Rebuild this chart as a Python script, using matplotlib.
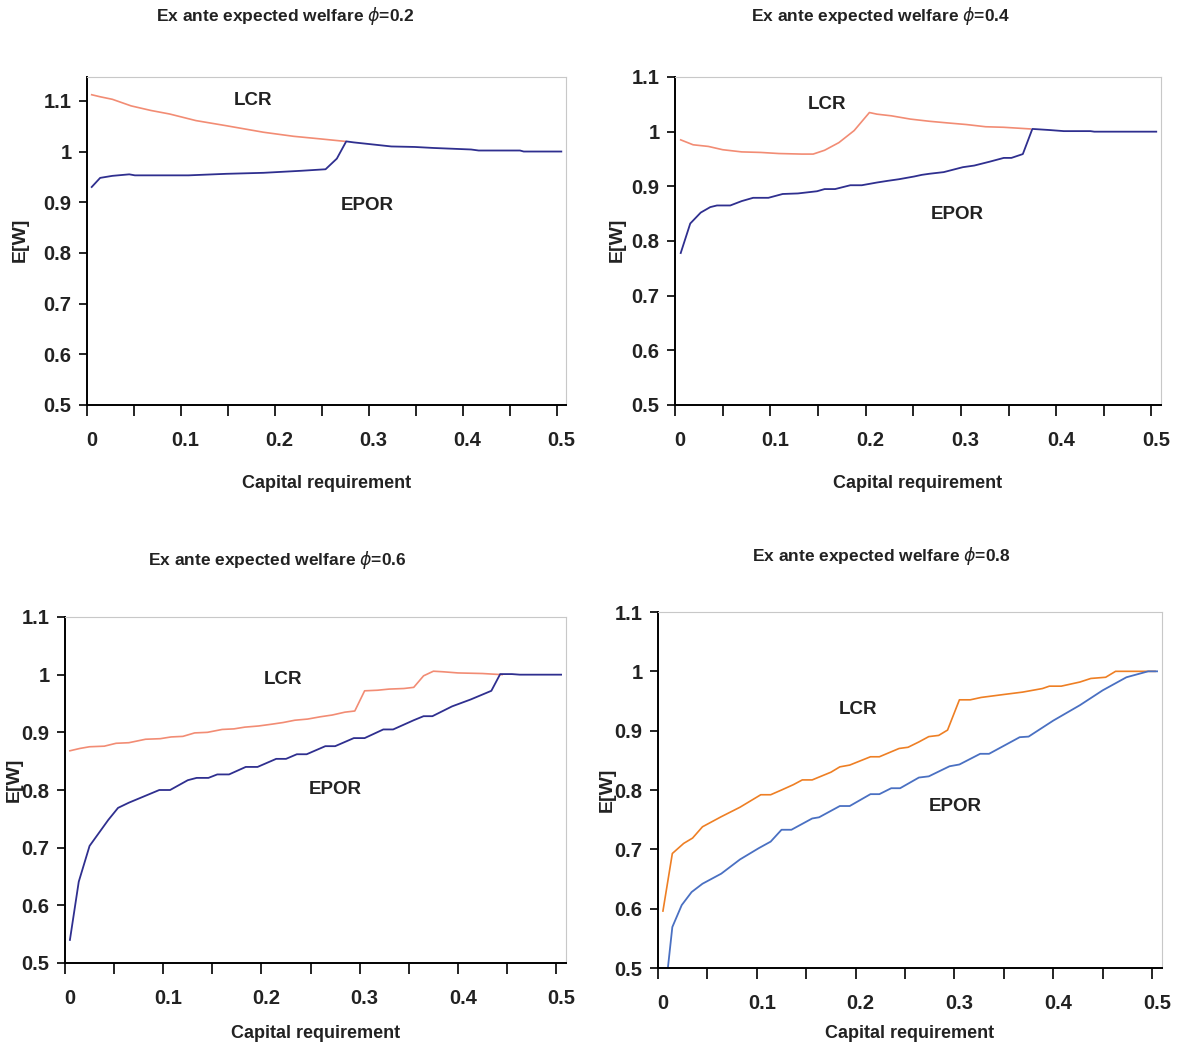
import matplotlib
matplotlib.use("Agg")
import matplotlib.pyplot as plt
import numpy as np

plt.rcParams['font.family'] = ['Liberation Sans', 'DejaVu Sans']
plt.rcParams['mathtext.fontset'] = 'dejavusans'

# ── data (capital requirement vs E[W]) ──
phis = ['0.2', '0.4', '0.6', '0.8']

lcr1_x = [0.005, 0.014, 0.027, 0.047, 0.068, 0.088, 0.116, 0.148, 0.188, 0.220, 0.248, 0.275]
lcr1_y = [1.112, 1.108, 1.103, 1.090, 1.081, 1.074, 1.061, 1.051, 1.038, 1.030, 1.025, 1.020]
epor1_x = [0.005, 0.014, 0.027, 0.045, 0.051, 0.108, 0.148, 0.188, 0.228, 0.254, 0.266, 0.276,
           0.284, 0.324, 0.349, 0.369, 0.409, 0.417, 0.461, 0.465, 0.505]
epor1_y = [0.930, 0.948, 0.952, 0.955, 0.953, 0.953, 0.956, 0.958, 0.962, 0.965, 0.986, 1.020,
           1.018, 1.010, 1.009, 1.007, 1.004, 1.002, 1.002, 1.000, 1.000]

lcr2_x = [0.006, 0.019, 0.035, 0.050, 0.070, 0.090, 0.109, 0.133, 0.145, 0.157, 0.172, 0.188,
          0.204, 0.212, 0.227, 0.247, 0.267, 0.286, 0.306, 0.326, 0.345, 0.373]
lcr2_y = [0.985, 0.976, 0.973, 0.967, 0.963, 0.962, 0.960, 0.959, 0.959, 0.966, 0.980, 1.002,
          1.035, 1.032, 1.029, 1.023, 1.019, 1.016, 1.013, 1.009, 1.008, 1.005]
epor2_x = [0.006, 0.016, 0.027, 0.037, 0.044, 0.058, 0.070, 0.082, 0.098, 0.113, 0.129, 0.149,
           0.157, 0.168, 0.184, 0.196, 0.212, 0.223, 0.235, 0.251, 0.259, 0.267, 0.282, 0.302,
           0.314, 0.330, 0.345, 0.353, 0.365, 0.375, 0.393, 0.408, 0.436, 0.440, 0.505]
epor2_y = [0.778, 0.832, 0.852, 0.862, 0.865, 0.865, 0.873, 0.879, 0.879, 0.886, 0.887, 0.891,
           0.895, 0.895, 0.902, 0.902, 0.907, 0.910, 0.913, 0.918, 0.921, 0.923, 0.926, 0.935,
           0.938, 0.945, 0.952, 0.952, 0.959, 1.005, 1.003, 1.001, 1.001, 1.000, 1.000]

lcr3_x = [0.005, 0.015, 0.025, 0.040, 0.052, 0.065, 0.082, 0.097, 0.108, 0.120, 0.132, 0.145,
          0.160, 0.172, 0.183, 0.197, 0.210, 0.222, 0.234, 0.247, 0.260, 0.272, 0.285, 0.295,
          0.305, 0.318, 0.330, 0.345, 0.355, 0.365, 0.375, 0.385, 0.400, 0.425, 0.445]
lcr3_y = [0.868, 0.872, 0.875, 0.876, 0.881, 0.882, 0.888, 0.889, 0.892, 0.893, 0.899, 0.900,
          0.905, 0.906, 0.909, 0.911, 0.914, 0.917, 0.921, 0.923, 0.927, 0.930, 0.935, 0.937,
          0.972, 0.973, 0.975, 0.976, 0.978, 0.998, 1.006, 1.005, 1.003, 1.002, 1.000]
epor3_x = [0.005, 0.014, 0.025, 0.044, 0.054, 0.065, 0.096, 0.107, 0.125, 0.134, 0.146, 0.155,
           0.167, 0.184, 0.196, 0.215, 0.225, 0.236, 0.246, 0.265, 0.275, 0.294, 0.305, 0.324,
           0.334, 0.355, 0.365, 0.374, 0.394, 0.413, 0.434, 0.443, 0.455, 0.463, 0.505]
epor3_y = [0.540, 0.641, 0.703, 0.748, 0.769, 0.778, 0.800, 0.800, 0.817, 0.821, 0.821, 0.827,
           0.827, 0.840, 0.840, 0.854, 0.854, 0.862, 0.862, 0.876, 0.876, 0.890, 0.890, 0.905,
           0.905, 0.921, 0.928, 0.928, 0.945, 0.957, 0.972, 1.001, 1.001, 1.000, 1.000]

lcr4_x = [0.005, 0.0145, 0.026, 0.035, 0.045, 0.064, 0.083, 0.104, 0.114, 0.125, 0.137, 0.146,
          0.156, 0.175, 0.184, 0.194, 0.215, 0.224, 0.244, 0.253, 0.264, 0.274, 0.284, 0.293,
          0.305, 0.316, 0.327, 0.350, 0.369, 0.389, 0.396, 0.408, 0.427, 0.438, 0.453, 0.463, 0.503]
lcr4_y = [0.596, 0.693, 0.710, 0.719, 0.738, 0.755, 0.771, 0.792, 0.792, 0.800, 0.809, 0.817,
          0.817, 0.830, 0.839, 0.842, 0.856, 0.856, 0.870, 0.872, 0.881, 0.890, 0.892, 0.901,
          0.952, 0.952, 0.956, 0.961, 0.965, 0.971, 0.975, 0.975, 0.982, 0.988, 0.990, 1.000, 1.000]
epor4_x = [0.010, 0.0145, 0.024, 0.034, 0.045, 0.064, 0.083, 0.102, 0.114, 0.125, 0.135, 0.156,
           0.163, 0.184, 0.194, 0.215, 0.224, 0.236, 0.245, 0.264, 0.274, 0.295, 0.305, 0.326,
           0.335, 0.366, 0.375, 0.400, 0.427, 0.450, 0.474, 0.496, 0.505]
epor4_y = [0.500, 0.569, 0.606, 0.628, 0.642, 0.659, 0.683, 0.702, 0.713, 0.733, 0.733, 0.752,
           0.754, 0.773, 0.773, 0.793, 0.793, 0.803, 0.803, 0.821, 0.823, 0.840, 0.843, 0.861,
           0.861, 0.889, 0.890, 0.917, 0.943, 0.968, 0.990, 1.000, 1.000]

panels = [
    (lcr1_x, lcr1_y, epor1_x, epor1_y),
    (lcr2_x, lcr2_y, epor2_x, epor2_y),
    (lcr3_x, lcr3_y, epor3_x, epor3_y),
    (lcr4_x, lcr4_y, epor4_x, epor4_y),
]

W, H = 1181, 1051
fig = plt.figure(figsize=(W / 100, H / 100), dpi=100)

# axes boxes in pixels: left, right, top, bottom
boxes = [(87, 566, 77, 405), (675, 1161, 77, 405), (65, 566, 617, 963), (658, 1162, 612, 968)]
ytops = [1.147, 1.1, 1.1, 1.1]
colors = [('#F28C74', '#2F2F8F'), ('#F28C74', '#2F2F8F'), ('#F28C74', '#2F2F8F'), ('#EE7F24', '#4A70C2')]
title_pos = [(285, 16), (881, 16), (277, 560), (881, 556)]
ylab_pos = [(20, 240), (617, 240), (14, 780), (607, 790)]
xlab_y = [484, 484, 1033, 1033]
lcr_txt = [(0.177, 1.10), (0.160, 1.049), (0.222, 0.991), (0.202, 0.936)]
epor_txt = [(0.298, 0.893), (0.296, 0.848), (0.275, 0.800), (0.301, 0.772)]

for i, (lx, ly, ex, ey) in enumerate(panels):
    l, r, t, b = boxes[i]
    ax = fig.add_axes([l / W, 1 - b / H, (r - l) / W, (b - t) / H])
    c_lcr, c_epor = colors[i]
    ax.plot(lx, ly, color=c_lcr, lw=1.2)
    ax.plot(ex, ey, color=c_epor, lw=1.3)
    ax.set_xlim(0, 0.51)
    ax.set_ylim(0.5, ytops[i])

    # tick marks every 0.05, labels offset like a category axis
    ax.set_xticks(np.arange(0, 0.501, 0.05))
    ax.set_xticklabels([])
    ax.set_xticks(np.arange(0.005, 0.506, 0.1), minor=True)
    ax.set_xticklabels(['0', '0.1', '0.2', '0.3', '0.4', '0.5'], minor=True)
    ax.tick_params(axis='x', which='major', direction='out', length=8, width=1.2)
    ax.tick_params(axis='x', which='minor', length=0, pad=19, labelsize=14.5)
    ax.set_yticks([0.5, 0.6, 0.7, 0.8, 0.9, 1.0, 1.1])
    ax.set_yticklabels(['0.5', '0.6', '0.7', '0.8', '0.9', '1', '1.1'])
    ax.tick_params(axis='y', direction='out', length=6, width=1.2, labelsize=14.5, pad=5)
    for lab in ax.get_xticklabels(minor=True) + ax.get_yticklabels():
        lab.set_fontweight('bold')
        lab.set_color('#222222')

    ax.spines['left'].set_linewidth(1.4)
    ax.spines['bottom'].set_linewidth(1.4)
    for s in ('top', 'right'):
        ax.spines[s].set_color('#C8C8C8')
        ax.spines[s].set_linewidth(0.8)

    ax.text(*lcr_txt[i], 'LCR', fontsize=13.5, fontweight='bold', ha='center', va='center', color='#222222')
    ax.text(*epor_txt[i], 'EPOR', fontsize=13.5, fontweight='bold', ha='center', va='center', color='#222222')

    tx, ty = title_pos[i]
    fig.text(tx / W, 1 - ty / H, r'Ex ante expected welfare $\phi$=' + phis[i],
             fontsize=12.5, fontweight='bold', ha='center', va='center', color='#222222')
    yx, yy = ylab_pos[i]
    fig.text(yx / W, 1 - yy / H, 'E[W]', rotation=90, fontsize=14, fontweight='bold',
             ha='center', va='center', color='#222222')
    fig.text(((l + r) / 2) / W, 1 - xlab_y[i] / H, 'Capital requirement', fontsize=13,
             fontweight='bold', ha='center', va='center', color='#222222')

fig.savefig('out.png', dpi=100)
